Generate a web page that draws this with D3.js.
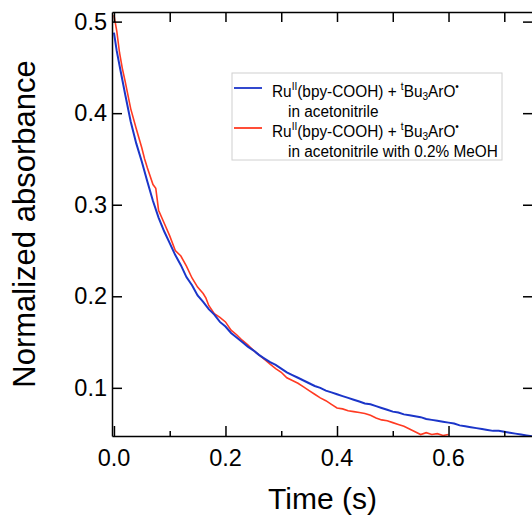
<!DOCTYPE html>
<html>
<head>
<meta charset="utf-8">
<script src="https://cdn.jsdelivr.net/npm/d3@7"></script>
<style>
  body { margin: 0; background: #fff; }
  svg { display: block; font-family: "Liberation Sans", Arial, sans-serif; }
  .axis path, .axis line { stroke: #000; stroke-width: 1.5; }
  .tick-label { font-size: 23.5px; fill: #000; }
  .axis-title { font-size: 30px; fill: #000; }
  .legend-text { font-size: 16px; fill: #000; }
</style>
</head>
<body>
<div id="wrapper"></div>
<script>
// data
const blueTime = [0, 0.005, 0.01, 0.02, 0.03, 0.04, 0.05, 0.06, 0.07, 0.08, 0.09,
  0.10, 0.11, 0.12, 0.13, 0.14, 0.15, 0.16, 0.17, 0.18, 0.19,
  0.20, 0.21, 0.22, 0.23, 0.24, 0.25, 0.26, 0.27, 0.28, 0.29,
  0.30, 0.31, 0.32, 0.33, 0.34, 0.35, 0.36, 0.37, 0.38, 0.39,
  0.40, 0.41, 0.42, 0.43, 0.44, 0.45, 0.46, 0.47, 0.48, 0.49,
  0.50, 0.51, 0.52, 0.53, 0.54, 0.55, 0.56, 0.57, 0.58, 0.59,
  0.60, 0.61, 0.62, 0.63, 0.64, 0.65, 0.66, 0.67, 0.68, 0.69,
  0.70, 0.71, 0.72, 0.73, 0.74, 0.75]
const blueAbs = [0.488, 0.468, 0.452, 0.421, 0.391, 0.367, 0.347, 0.325, 0.304, 0.286, 0.271,
  0.258, 0.245, 0.234, 0.221, 0.212, 0.201, 0.194, 0.186, 0.180, 0.172,
  0.167, 0.160, 0.155, 0.150, 0.145, 0.141, 0.136, 0.132, 0.128, 0.125,
  0.121, 0.117, 0.114, 0.111, 0.108, 0.105, 0.102, 0.100, 0.097, 0.095,
  0.093, 0.091, 0.089, 0.087, 0.085, 0.083, 0.082, 0.080, 0.078, 0.076,
  0.074, 0.073, 0.071, 0.070, 0.069, 0.068, 0.066, 0.065, 0.064, 0.063,
  0.062, 0.061, 0.059, 0.058, 0.057, 0.056, 0.055, 0.054, 0.053, 0.053,
  0.052, 0.051, 0.050, 0.049, 0.048, 0.047]

const redTime = [0, 0.005, 0.01, 0.015, 0.02, 0.03, 0.04, 0.05, 0.055, 0.06, 0.07, 0.075, 0.08, 0.09,
  0.10, 0.11, 0.12, 0.13, 0.14, 0.15, 0.16, 0.165, 0.17, 0.18, 0.19,
  0.20, 0.21, 0.22, 0.23, 0.24, 0.25, 0.26, 0.27, 0.28, 0.29,
  0.30, 0.31, 0.32, 0.33, 0.34, 0.35, 0.36, 0.37, 0.38, 0.39,
  0.40, 0.41, 0.42, 0.43, 0.44, 0.45, 0.46, 0.47, 0.48, 0.49,
  0.50, 0.51, 0.52, 0.53, 0.54, 0.55, 0.56, 0.57, 0.58, 0.59, 0.60]
const redAbs = [0.507, 0.490, 0.466, 0.449, 0.435, 0.405, 0.383, 0.362, 0.350, 0.340, 0.322, 0.318, 0.294, 0.280,
  0.266, 0.250, 0.244, 0.233, 0.220, 0.210, 0.203, 0.198, 0.190, 0.181, 0.177,
  0.172, 0.163, 0.158, 0.152, 0.147, 0.141, 0.136, 0.131, 0.126, 0.121,
  0.117, 0.111, 0.108, 0.105, 0.101, 0.097, 0.093, 0.089, 0.086, 0.082,
  0.078, 0.077, 0.075, 0.074, 0.073, 0.072, 0.070, 0.067, 0.065, 0.064,
  0.062, 0.060, 0.058, 0.055, 0.052, 0.049, 0.051, 0.049, 0.050, 0.048, 0.049]

const xMajorTicks = [0, 0.2, 0.4, 0.6]
const xMinorTicks = [0.1, 0.3, 0.5, 0.7]
const yTicks = [0.1, 0.2, 0.3, 0.4, 0.5]

const seriesNames = ["acetonitrile", "acetonitrile with 0.2% MeOH"]
const seriesColors = ["#1b35c9", "#ff3a22"]

function drawChart() {
  const dimensions = {
    width: 532,
    height: 516,
    margin: { top: 12, right: -1, bottom: 80, left: 112 },
  }
  dimensions.boundedWidth = dimensions.width - dimensions.margin.left - dimensions.margin.right
  dimensions.boundedHeight = dimensions.height - dimensions.margin.top - dimensions.margin.bottom

  const wrapper = d3.select("#wrapper")
    .append("svg")
      .attr("width", dimensions.width)
      .attr("height", dimensions.height)

  const bounds = wrapper.append("g")
      .attr("transform", `translate(${dimensions.margin.left}, ${dimensions.margin.top})`)

  bounds.append("defs").append("clipPath")
      .attr("id", "plot-clip")
    .append("rect")
      .attr("width", dimensions.boundedWidth)
      .attr("height", dimensions.boundedHeight)

  const xScale = d3.scaleLinear()
    .domain([-0.0035, 0.7515])
    .range([0, dimensions.boundedWidth])

  const yScale = d3.scaleLinear()
    .domain([0.0474, 0.5105])
    .range([dimensions.boundedHeight, 0])

  // curves
  const lineGenerator = d3.line()
    .x(d => xScale(d[0]))
    .y(d => yScale(d[1]))

  const redData = redTime.map((t, i) => [t, redAbs[i]])
  const blueData = blueTime.map((t, i) => [t, blueAbs[i]])

  const plot = bounds.append("g").attr("clip-path", "url(#plot-clip)")
  plot.append("path")
      .attr("d", lineGenerator(redData))
      .attr("fill", "none")
      .attr("stroke", seriesColors[1])
      .attr("stroke-width", 1.6)
  plot.append("path")
      .attr("d", lineGenerator(blueData))
      .attr("fill", "none")
      .attr("stroke", seriesColors[0])
      .attr("stroke-width", 2)

  // axes
  bounds.append("g")
      .attr("class", "axis")
      .attr("transform", `translate(0, ${dimensions.boundedHeight})`)
    .call(d3.axisBottom(xScale).tickValues(xMajorTicks).tickSizeInner(-10).tickSizeOuter(0).tickFormat(""))
  bounds.append("g")
      .attr("class", "axis")
      .attr("transform", `translate(0, ${dimensions.boundedHeight})`)
    .call(d3.axisBottom(xScale).tickValues(xMinorTicks).tickSizeInner(-5).tickSizeOuter(0).tickFormat(""))
    .call(g => g.select(".domain").remove())
  bounds.append("g")
      .attr("class", "axis")
    .call(d3.axisTop(xScale).tickValues(xMajorTicks.concat(xMinorTicks)).tickSizeInner(-10).tickSizeOuter(0).tickFormat(""))
  bounds.append("g")
      .attr("class", "axis")
    .call(d3.axisLeft(yScale).tickValues(yTicks).tickSizeInner(-10).tickSizeOuter(0).tickFormat(""))
  bounds.append("g")
      .attr("class", "axis")
      .attr("transform", `translate(${dimensions.boundedWidth}, 0)`)
    .call(d3.axisRight(yScale).tickValues(yTicks).tickSizeInner(-10).tickSizeOuter(0).tickFormat(""))

  // tick labels
  bounds.selectAll(".x-label")
      .data(xMajorTicks)
    .enter().append("text")
      .attr("class", "tick-label")
      .attr("x", d => xScale(d))
      .attr("y", dimensions.boundedHeight + 30)
      .attr("text-anchor", "middle")
      .text(d => d3.format(".1f")(d))
  bounds.selectAll(".y-label")
      .data(yTicks)
    .enter().append("text")
      .attr("class", "tick-label")
      .attr("x", -5)
      .attr("y", d => yScale(d) + 8)
      .attr("text-anchor", "end")
      .text(d => d3.format(".1f")(d))

  // axis titles
  bounds.append("text")
      .attr("class", "axis-title")
      .attr("x", dimensions.boundedWidth / 2)
      .attr("y", dimensions.boundedHeight + 73)
      .attr("text-anchor", "middle")
      .text("Time (s)")
  bounds.append("text")
      .attr("class", "axis-title")
      .style("font-size", "31px")
      .attr("transform", `translate(${-112 + 35}, ${dimensions.boundedHeight / 2}) rotate(-90)`)
      .attr("text-anchor", "middle")
      .text("Normalized absorbance")

  // legend
  const legend = wrapper.append("g")
      .attr("transform", "translate(232, 73)")
  legend.append("rect")
      .attr("width", 270)
      .attr("height", 87)
      .attr("fill", "#fff")
      .attr("stroke", "#d0d0d0")
      .attr("stroke-width", 1)

  seriesNames.forEach((name, i) => {
    const baseY = 24 + i * 40
    legend.append("line")
        .attr("x1", 2)
        .attr("x2", 30)
        .attr("y1", baseY - 9)
        .attr("y2", baseY - 9)
        .attr("stroke", seriesColors[i])
        .attr("stroke-width", 1.8)
    const label = legend.append("text")
        .attr("class", "legend-text")
        .attr("transform", `translate(40, ${baseY}) scale(0.96, 1)`)
    label.append("tspan").text("Ru")
    label.append("tspan").attr("dy", -7).attr("font-size", "10.5px").text("II")
    label.append("tspan").attr("dy", 7).text("(bpy-COOH) + ")
    label.append("tspan").attr("dy", -7).attr("font-size", "10.5px").text("t")
    label.append("tspan").attr("dy", 7).text("Bu")
    label.append("tspan").attr("dy", 3).attr("font-size", "10.5px").text("3")
    label.append("tspan").attr("dy", -3).text("ArO")
    label.append("tspan").attr("dy", -7).attr("font-size", "10.5px").text("•")
    legend.append("text")
        .attr("class", "legend-text")
        .attr("transform", `translate(56, ${baseY + 20}) scale(0.96, 1)`)
        .text(`in ${name}`)
  })
}
drawChart()
</script>
</body>
</html>
